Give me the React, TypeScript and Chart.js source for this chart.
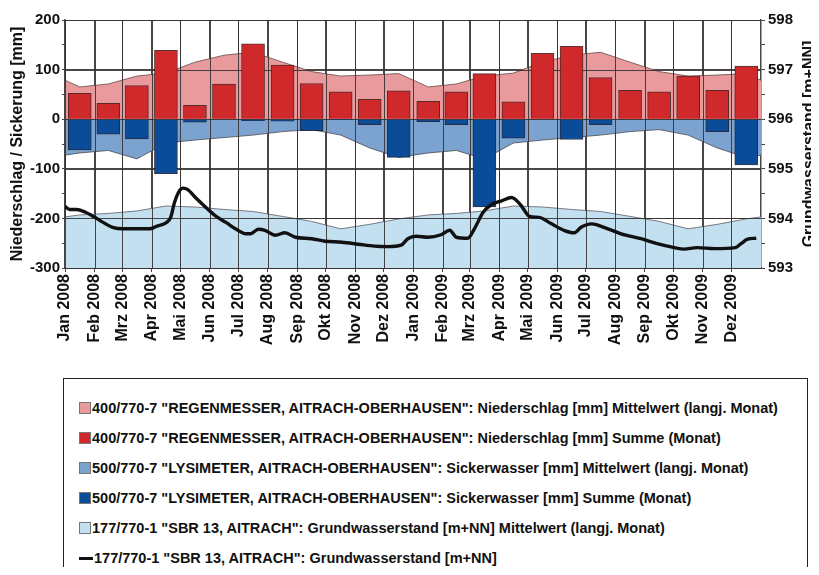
import React, { useEffect, useRef } from 'react';
import { Chart, registerables } from 'chart.js';

Chart.register(...registerables);

// ---------- data ----------
const MONTH_LABELS = [
  'Jan 2008', 'Feb 2008', 'Mrz 2008', 'Apr 2008', 'Mai 2008', 'Jun 2008',
  'Jul 2008', 'Aug 2008', 'Sep 2008', 'Okt 2008', 'Nov 2008', 'Dez 2008',
  'Jan 2009', 'Feb 2009', 'Mrz 2009', 'Apr 2009', 'Mai 2009', 'Jun 2009',
  'Jul 2009', 'Aug 2009', 'Sep 2009', 'Okt 2009', 'Nov 2009', 'Dez 2009',
];

// Niederschlag Summe (Monat) [mm]
const PRECIP_SUM = [52, 32, 68, 139, 28, 71, 152, 109, 72, 55, 40, 57,
  36, 55, 92, 35, 133, 147, 84, 58, 55, 87, 58, 107];
// Sickerwasser Summe (Monat) [mm]
const SEEPAGE_SUM = [-62, -30, -40, -110, -6, 0, -3, -4, -23, -1, -11, -77,
  -5, -11, -177, -38, 0, -41, -11, 0, 0, 0, -25, -92];
// long-term monthly means, Jan..Dez
const PRECIP_MEAN = [65, 71, 87, 93, 115, 129, 135, 115, 96, 87, 89, 92];
const SEEPAGE_MEAN = [-68, -63, -80, -48, -42, -37, -32, -25, -21, -32, -58, -77];
const GW_MEAN = [594.07, 594.10, 594.15, 594.25, 594.23, 594.18, 594.14, 594.04, 593.94, 593.79, 593.88, 593.99];

// Grundwasserstand [m+NN]
const GW_DATES = [
  '2008-01-01', '2008-01-06', '2008-01-13', '2008-01-22', '2008-01-30', '2008-02-10', '2008-02-20',
  '2008-03-02', '2008-03-16', '2008-03-30', '2008-04-06', '2008-04-16', '2008-04-21', '2008-04-25',
  '2008-04-30', '2008-05-04', '2008-05-09', '2008-05-17', '2008-05-28', '2008-06-07', '2008-06-18',
  '2008-06-28', '2008-07-09', '2008-07-14', '2008-07-22', '2008-07-29', '2008-08-09', '2008-08-19',
  '2008-08-30', '2008-09-16', '2008-09-30', '2008-10-18', '2008-11-04', '2008-11-21', '2008-12-05',
  '2008-12-19', '2008-12-26',
  '2009-01-04', '2009-01-16', '2009-01-30', '2009-02-08', '2009-02-15', '2009-02-27', '2009-03-06',
  '2009-03-15', '2009-03-24', '2009-04-03', '2009-04-14', '2009-04-24', '2009-05-03', '2009-05-13',
  '2009-05-26', '2009-06-08', '2009-06-19', '2009-06-26', '2009-07-07', '2009-07-20', '2009-08-07',
  '2009-08-28', '2009-09-14', '2009-10-02', '2009-10-12', '2009-10-26', '2009-11-13', '2009-12-05',
  '2009-12-11', '2009-12-18', '2009-12-27',
];
const GW_LEVEL = [
  594.24, 594.18, 594.18, 594.13, 594.05, 593.92, 593.82,
  593.79, 593.79, 593.79, 593.84, 593.91, 594.02, 594.32,
  594.55, 594.61, 594.58, 594.42, 594.22, 594.05, 593.92,
  593.79, 593.69, 593.69, 593.78, 593.76, 593.66, 593.71,
  593.62, 593.59, 593.54, 593.52, 593.48, 593.44, 593.43,
  593.46, 593.59,
  593.64, 593.62, 593.67, 593.76, 593.62, 593.60, 593.79,
  594.12, 594.28, 594.35, 594.42, 594.26, 594.04, 594.02,
  593.89, 593.76, 593.71, 593.82, 593.89, 593.82, 593.69,
  593.59, 593.49, 593.41, 593.38, 593.41, 593.39, 593.41,
  593.49, 593.58, 593.60,
];

const LEGEND_LABELS = [
  '400/770-7 "REGENMESSER, AITRACH-OBERHAUSEN": Niederschlag [mm] Mittelwert (langj. Monat)',
  '400/770-7 "REGENMESSER, AITRACH-OBERHAUSEN": Niederschlag [mm] Summe (Monat)',
  '500/770-7 "LYSIMETER, AITRACH-OBERHAUSEN": Sickerwasser [mm] Mittelwert (langj. Monat)',
  '500/770-7 "LYSIMETER, AITRACH-OBERHAUSEN": Sickerwasser [mm] Summe (Monat)',
  '177/770-1 "SBR 13, AITRACH": Grundwasserstand [m+NN] Mittelwert (langj. Monat)',
  '177/770-1 "SBR 13, AITRACH": Grundwasserstand [m+NN]',
];

// ---------- styling ----------
const FONT = "'Liberation Sans', Arial, Helvetica, sans-serif";
const C_RED_MEAN = '#E89A9C';
const C_RED = '#CF292C';
const C_BLUE_MEAN = '#7CA3CF';
const C_BLUE = '#0B4C99';
const C_GW_MEAN = '#C3E0F0';
const C_GRID = 'rgba(55,50,50,0.9)';
const LEGEND_COLORS = [C_RED_MEAN, C_RED, C_BLUE_MEAN, C_BLUE, C_GW_MEAN, '#111'];

const W = 811;
const H = 559;

// ---------- helpers (time in days since 2008-01-01) ----------
const BASE = Date.UTC(2008, 0, 1);
const DAY = 86400000;
const monthStart = (i: number) => (Date.UTC(2008, i, 1) - BASE) / DAY;
const monthMid = (i: number) => (monthStart(i) + monthStart(i + 1)) / 2;
const dayOf = (s: string) => (Date.parse(s) - BASE) / DAY;

const MONTH_TICKS = MONTH_LABELS.map((_, i) => monthStart(i));
const X_MAX = monthStart(MONTH_LABELS.length);

// long-term mean repeated for each month shown (plus one month either side, clipped)
const meanSeries = (mean: number[]) => {
  const pts: { x: number; y: number }[] = [];
  for (let i = -1; i <= MONTH_LABELS.length; i++) {
    pts.push({ x: monthMid(i), y: mean[((i % 12) + 12) % 12] });
  }
  return pts;
};

// grid lines drawn over the mean areas but under the bars
let gridDrawn = false;
const gridOverAreasPlugin = {
  id: 'gridOverAreas',
  beforeDatasetsDraw() {
    gridDrawn = false;
  },
  beforeDatasetDraw(chart: any, args: any) {
    if (gridDrawn) return;
    const ds = chart.data.datasets[args.index];
    if (ds.type !== 'bar') return;
    gridDrawn = true;
    const { ctx, chartArea, scales } = chart;
    ctx.save();
    ctx.strokeStyle = C_GRID;
    ctx.lineWidth = 1;
    ctx.beginPath();
    MONTH_TICKS.forEach((v) => {
      const x = Math.round(scales.x.getPixelForValue(v)) + 0.5;
      ctx.moveTo(x, chartArea.top);
      ctx.lineTo(x, chartArea.bottom);
    });
    for (let v = -300; v <= 200; v += 100) {
      const y = Math.round(scales.yL.getPixelForValue(v)) + 0.5;
      ctx.moveTo(chartArea.left, y);
      ctx.lineTo(chartArea.right, y);
    }
    ctx.stroke();
    ctx.restore();
  },
};

const rightTitlePlugin = {
  id: 'rightTitle',
  afterDraw(chart: any) {
    const { ctx, chartArea } = chart;
    ctx.save();
    ctx.translate(chart.width - 9, (chartArea.top + chartArea.bottom) / 2);
    ctx.rotate(-Math.PI / 2);
    ctx.font = `bold 16px ${FONT}`;
    ctx.fillStyle = '#111';
    ctx.textAlign = 'center';
    ctx.textBaseline = 'middle';
    ctx.fillText('Grundwasserstand [m+NN]', 0, 0);
    ctx.restore();
  },
};

export default function App() {
  const canvasRef = useRef<HTMLCanvasElement | null>(null);

  useEffect(() => {
    if (!canvasRef.current) return;
    const chart = new Chart(canvasRef.current, {
      type: 'line',
      data: {
        datasets: [
          {
            type: 'line',
            label: LEGEND_LABELS[5],
            yAxisID: 'yR',
            data: GW_DATES.map((d, i) => ({ x: dayOf(d), y: GW_LEVEL[i] })),
            borderColor: '#111',
            borderWidth: 3.4,
            pointRadius: 0,
            fill: false,
            cubicInterpolationMode: 'monotone',
            order: 0,
          },
          {
            type: 'bar',
            label: LEGEND_LABELS[1],
            yAxisID: 'yL',
            data: PRECIP_SUM.map((v, i) => ({ x: monthMid(i), y: v })),
            backgroundColor: C_RED,
            borderColor: 'rgba(70,30,30,0.9)',
            borderWidth: 1,
            barThickness: 23,
            grouped: false,
            order: 1,
          },
          {
            type: 'bar',
            label: LEGEND_LABELS[3],
            yAxisID: 'yL',
            data: SEEPAGE_SUM.map((v, i) => ({ x: monthMid(i), y: v })),
            backgroundColor: C_BLUE,
            borderColor: 'rgba(30,30,50,0.9)',
            borderWidth: 1,
            barThickness: 23,
            grouped: false,
            order: 1,
          },
          {
            type: 'line',
            label: LEGEND_LABELS[0],
            yAxisID: 'yL',
            data: meanSeries(PRECIP_MEAN),
            backgroundColor: C_RED_MEAN,
            borderColor: 'rgba(110,80,80,0.85)',
            borderWidth: 1,
            pointRadius: 0,
            fill: 'origin',
            order: 2,
          },
          {
            type: 'line',
            label: LEGEND_LABELS[2],
            yAxisID: 'yL',
            data: meanSeries(SEEPAGE_MEAN),
            backgroundColor: C_BLUE_MEAN,
            borderColor: 'rgba(80,80,90,0.85)',
            borderWidth: 1,
            pointRadius: 0,
            fill: 'origin',
            order: 2,
          },
          {
            type: 'line',
            label: LEGEND_LABELS[4],
            yAxisID: 'yR',
            data: meanSeries(GW_MEAN),
            backgroundColor: C_GW_MEAN,
            borderColor: 'rgba(100,100,110,0.85)',
            borderWidth: 1,
            pointRadius: 0,
            fill: 'start',
            order: 2,
          },
        ],
      },
      options: {
        responsive: false,
        animation: false,
        events: [],
        layout: { padding: { left: 0, right: 0, top: 9, bottom: H - 260 - 80 } },
        plugins: {
          legend: { display: false },
          tooltip: { enabled: false },
        },
        scales: {
          x: {
            type: 'linear',
            min: 0,
            max: X_MAX,
            offset: false,
            afterBuildTicks: (scale: any) => {
              scale.ticks = MONTH_TICKS.map((v) => ({ value: v }));
            },
            afterFit: (scale: any) => {
              scale.height = 80;
            },
            ticks: {
              autoSkip: false,
              minRotation: 90,
              maxRotation: 90,
              padding: 2,
              color: '#111',
              font: { family: FONT, size: 16, weight: 'bold' },
              callback: (_v: any, i: number) => MONTH_LABELS[i],
            },
            grid: { color: C_GRID, tickColor: C_GRID, tickLength: 4, offset: false, lineWidth: 1 },
            border: { color: C_GRID, width: 1.5 },
          },
          yL: {
            type: 'linear',
            position: 'left',
            min: -300,
            max: 200,
            afterFit: (scale: any) => {
              scale.width = 57;
            },
            ticks: {
              stepSize: 50,
              padding: 2,
              color: '#111',
              font: { family: FONT, size: 15, weight: 'bold' },
              callback: (v: any) => (Number(v) % 100 === 0 ? String(v) : ''),
            },
            grid: {
              color: (ctx: any) => (ctx.tick && ctx.tick.value % 100 === 0 ? C_GRID : 'rgba(0,0,0,0)'),
              tickColor: C_GRID,
              tickLength: 3,
              lineWidth: 1,
            },
            border: { color: C_GRID, width: 1.5 },
            title: {
              display: true,
              text: 'Niederschlag / Sickerung [mm]',
              color: '#111',
              padding: { top: 0, bottom: 0 },
              font: { family: FONT, size: 16, weight: 'bold' },
            },
          },
          yR: {
            type: 'linear',
            position: 'right',
            min: 593,
            max: 598,
            afterFit: (scale: any) => {
              scale.width = W - 753;
            },
            ticks: {
              stepSize: 0.5,
              padding: 3,
              color: '#111',
              font: { family: FONT, size: 15, weight: 'bold' },
              callback: (v: any) => (Number.isInteger(Number(v)) ? String(v) : ''),
            },
            grid: { drawOnChartArea: false, color: C_GRID, tickColor: C_GRID, tickLength: 4 },
            border: { color: C_GRID, width: 1.5 },
          },
        },
      } as any,
      plugins: [gridOverAreasPlugin, rightTitlePlugin],
    } as any);
    return () => chart.destroy();
  }, []);

  return (
    <div style={{ position: 'relative', width: W, height: H }}>
      <canvas ref={canvasRef} width={W} height={H} style={{ display: 'block' }} />
      <div
        style={{
          position: 'absolute',
          left: 55,
          top: 370,
          width: 745,
          height: 194,
          boxSizing: 'border-box',
          border: '1px solid #222',
          background: '#fff',
          fontFamily: FONT,
          fontWeight: 'bold',
          fontSize: 14.5,
          color: '#111',
        }}
      >
        {LEGEND_LABELS.map((label, i) => (
          <div
            key={i}
            style={{
              position: 'absolute',
              left: 15,
              top: 14 + i * 30,
              height: 30,
              display: 'flex',
              alignItems: 'center',
              whiteSpace: 'nowrap',
            }}
          >
            {i === 5 ? (
              <span style={{ display: 'inline-block', width: 14, height: 3, background: LEGEND_COLORS[i], marginRight: 1 }} />
            ) : (
              <span
                style={{
                  display: 'inline-block',
                  width: 10,
                  height: 10,
                  background: LEGEND_COLORS[i],
                  border: '1px solid #777',
                  marginRight: 1,
                }}
              />
            )}
            <span>{label}</span>
          </div>
        ))}
      </div>
    </div>
  );
}
